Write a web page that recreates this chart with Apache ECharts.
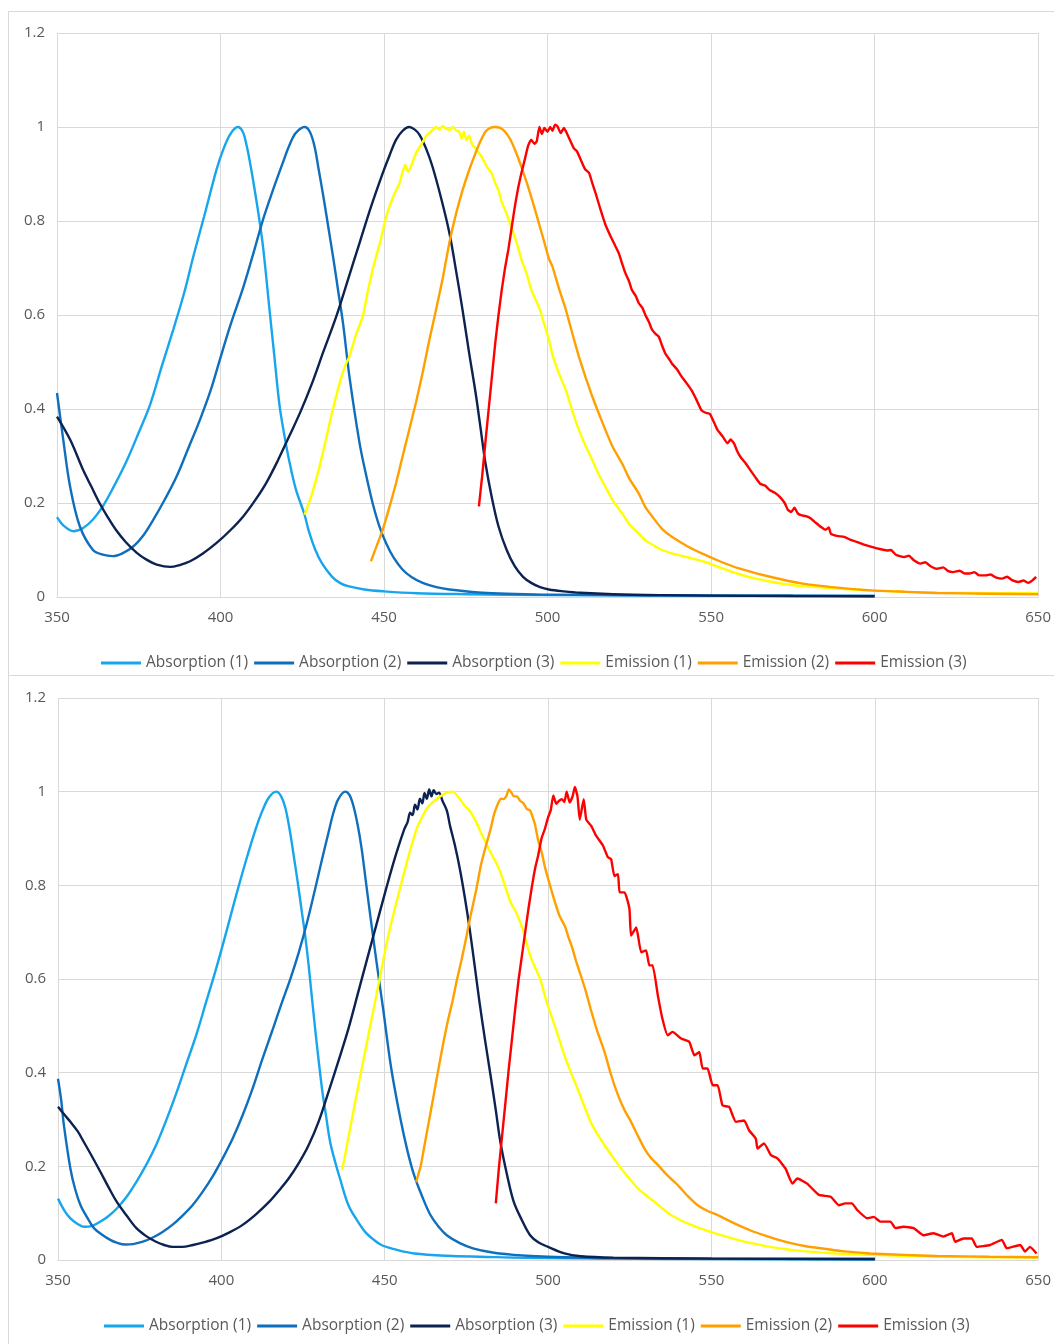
<!DOCTYPE html>
<html>
<head>
<meta charset="utf-8">
<title>Absorption and emission spectra</title>
<script src="https://cdn.jsdelivr.net/npm/echarts@6/dist/echarts.min.js"></script>
<style>
  html, body { margin: 0; padding: 0; background: #ffffff; }
  #chart { width: 1054px; height: 1344px; }
</style>
</head>
<body>
<div id="chart"></div>
<script>
// Wavelength axis (nm) and normalised intensity axis
const xTicks = [350, 400, 450, 500, 550, 600, 650];
const yTicks = [0, 0.2, 0.4, 0.6, 0.8, 1, 1.2];
const seriesNames = ['Absorption (1)', 'Absorption (2)', 'Absorption (3)', 'Emission (1)', 'Emission (2)', 'Emission (3)'];

// ---- Upper panel: [wavelength, normalised intensity] ----
const absorption1Top = [[350,0.17],[352,0.152],[355,0.14],[358,0.147],[361,0.165],[364,0.193],[367,0.23],[371,0.285],[375,0.35],[378.5,0.41],[382,0.49],[385.6,0.57],[389,0.65],[391.7,0.725],[395,0.81],[398.8,0.91],[401,0.955],[403,0.985],[405.2,1.0],[406.8,0.99],[408,0.96],[409,0.925],[410,0.885],[411.5,0.82],[413,0.745],[415,0.61],[416.5,0.51],[418,0.41],[419.5,0.345],[421,0.29],[423,0.23],[425.7,0.175],[427,0.14],[429,0.1],[431,0.072],[434,0.044],[436.5,0.03],[439,0.023],[444,0.016],[450,0.012],[460,0.008],[475,0.006],[500,0.004],[550,0.003],[600,0.002]];
const absorption2Top = [[350,0.434],[352,0.33],[354,0.235],[357,0.15],[361,0.1],[364,0.09],[367,0.087],[370,0.093],[373.4,0.108],[376.5,0.132],[379.5,0.165],[383,0.208],[386.6,0.257],[390,0.314],[393.7,0.377],[397,0.44],[399.8,0.505],[403,0.578],[407,0.66],[410,0.73],[413,0.803],[416,0.865],[419,0.923],[421,0.96],[423,0.987],[425.7,1.0],[427.3,0.99],[428.7,0.96],[430,0.91],[431.5,0.85],[433,0.785],[434.5,0.72],[436,0.65],[437.5,0.58],[439.4,0.47],[442.5,0.328],[444.5,0.26],[446.5,0.2],[448.5,0.152],[450.6,0.115],[453,0.083],[455.7,0.058],[458.5,0.042],[461.8,0.03],[466,0.021],[470,0.016],[480,0.009],[490,0.0065],[500,0.005],[550,0.003],[600,0.002]];
const absorption3Top = [[350,0.384],[354,0.335],[358,0.27],[360.5,0.235],[363,0.2],[365.5,0.17],[368,0.143],[371,0.117],[374.4,0.094],[377.5,0.079],[380.5,0.069],[384.6,0.064],[387.5,0.068],[390.7,0.076],[394.5,0.092],[398.8,0.115],[403,0.142],[407,0.172],[410.5,0.205],[414,0.243],[417.5,0.29],[421,0.342],[424.5,0.395],[428,0.455],[431.5,0.523],[435.4,0.597],[439,0.676],[442.5,0.753],[446,0.83],[449.6,0.902],[451.7,0.94],[453.7,0.973],[455.7,0.992],[457.7,1.0],[459.3,0.995],[460.8,0.984],[462.8,0.955],[464.8,0.916],[467.4,0.85],[470,0.774],[472,0.695],[474,0.611],[476,0.52],[478,0.434],[479.5,0.36],[481,0.285],[483,0.21],[485,0.15],[487.5,0.1],[490,0.065],[492.5,0.043],[495,0.03],[497.7,0.021],[500.4,0.016],[505,0.012],[510,0.009],[520,0.006],[535,0.004],[550,0.003],[575,0.002],[600,0.0015]];
const emission1Top = [[425.7,0.175],[427,0.2],[428,0.22],[430,0.27],[432,0.328],[434,0.39],[436.4,0.455],[438,0.49],[439.4,0.512],[441.5,0.56],[443.5,0.597],[445,0.65],[446.5,0.696],[447.8,0.73],[449,0.76],[450.3,0.8],[451.6,0.83],[453,0.855],[454.7,0.88],[455.7,0.905],[456.5,0.92],[457.3,0.905],[458,0.912],[459.8,0.945],[461.3,0.962],[462.8,0.98],[464.3,0.99],[465.9,1.0],[467,0.994],[467.9,1.002],[468.9,0.997],[470,0.994],[471,1.0],[472,0.993],[473,0.99],[473.7,0.975],[474.4,0.99],[475.2,0.972],[476,0.982],[477,0.962],[478,0.955],[479,0.945],[480,0.935],[481.5,0.915],[483,0.9],[484,0.88],[485,0.865],[486,0.84],[487.5,0.815],[489,0.785],[490.5,0.755],[492,0.718],[493.5,0.69],[495,0.654],[496.3,0.633],[497.7,0.611],[499,0.58],[500.4,0.548],[501.5,0.515],[503.5,0.475],[505.6,0.44],[507.6,0.395],[509.6,0.355],[511.6,0.322],[513.7,0.291],[515.7,0.26],[517.7,0.234],[520,0.205],[522.8,0.178],[525,0.155],[527.9,0.135],[530,0.12],[532.9,0.108],[535,0.1],[538,0.093],[543,0.084],[548,0.075],[553,0.062],[558,0.05],[563,0.04],[568,0.033],[573,0.027],[578.5,0.023],[588,0.018],[598.8,0.014],[609,0.011],[619,0.009],[630,0.0085],[640,0.008],[650,0.008]];
const emission2Top = [[446,0.076],[447.8,0.11],[449.6,0.143],[451.6,0.19],[453.7,0.243],[455.7,0.3],[457.7,0.356],[459.8,0.415],[461.8,0.477],[463.8,0.545],[465.9,0.611],[468,0.68],[470,0.755],[472,0.815],[474,0.865],[476,0.908],[478,0.945],[479.5,0.97],[481,0.99],[482.5,0.998],[484,1.0],[485.5,0.998],[487,0.99],[488.5,0.975],[490,0.952],[492,0.915],[494,0.874],[495.7,0.835],[497.4,0.794],[499,0.755],[500.4,0.72],[501.5,0.703],[503.5,0.656],[505.6,0.611],[507.6,0.56],[509.6,0.511],[511.6,0.468],[513.7,0.426],[515.7,0.39],[517.7,0.355],[520,0.318],[522.8,0.284],[525,0.252],[527.9,0.22],[530,0.19],[532.9,0.163],[535,0.145],[538,0.128],[543,0.107],[548,0.09],[553,0.075],[558,0.062],[568,0.043],[578.5,0.028],[588.7,0.02],[598.8,0.014],[610,0.011],[619,0.0085],[635,0.007],[650,0.006]];
const emission3Top = [[479,0.193],[480,0.257],[481,0.33],[482,0.4],[483,0.47],[484,0.54],[485,0.6],[486,0.654],[487,0.7],[488,0.739],[489,0.785],[490,0.831],[491,0.87],[492,0.902],[493,0.93],[494,0.959],[495,0.973],[496,0.964],[496.7,0.97],[497.5,1.0],[498.3,0.985],[499,0.998],[500,0.99],[500.8,1.0],[501.5,0.992],[502.3,1.005],[503,1.002],[504,0.987],[505,0.998],[506,0.985],[507,0.97],[508,0.955],[509,0.948],[510.6,0.923],[511.5,0.91],[512.7,0.902],[513.7,0.88],[514.7,0.859],[516.2,0.824],[517.7,0.792],[519.3,0.767],[520.5,0.75],[521.8,0.731],[523,0.705],[523.8,0.689],[525,0.67],[525.8,0.653],[527,0.64],[527.9,0.625],[529,0.615],[529.9,0.6],[531,0.585],[532,0.568],[533,0.56],[534,0.554],[535,0.535],[536,0.518],[537,0.508],[538,0.497],[539.5,0.485],[541,0.469],[542.5,0.455],[544,0.44],[545.5,0.42],[547,0.398],[548.3,0.392],[549.6,0.39],[551,0.37],[552,0.355],[553.5,0.342],[555,0.327],[556,0.335],[557,0.327],[558,0.31],[559,0.298],[560.5,0.285],[562,0.27],[563.5,0.255],[565,0.241],[566.5,0.237],[568,0.227],[569.5,0.222],[571,0.213],[572.5,0.2],[573.5,0.185],[574.5,0.181],[575.5,0.19],[576.5,0.178],[577.5,0.174],[579,0.172],[580.5,0.167],[582,0.158],[583.6,0.149],[585,0.143],[586,0.148],[586.6,0.135],[588.5,0.13],[590.7,0.128],[592.5,0.122],[594.7,0.117],[596.5,0.112],[598.8,0.107],[601,0.103],[603.8,0.099],[605,0.1],[606.5,0.09],[609,0.085],[610.5,0.088],[612,0.078],[614,0.071],[615.5,0.074],[617,0.066],[619,0.06],[621,0.063],[622.5,0.055],[624,0.053],[626,0.056],[627.5,0.05],[629,0.05],[630.5,0.053],[632,0.046],[634,0.046],[635.5,0.048],[637,0.042],[639,0.039],[640.5,0.043],[642,0.036],[644,0.032],[645.5,0.035],[647,0.03],[648,0.034],[649.4,0.043]];

// ---- Lower panel: [wavelength, normalised intensity] ----
const absorption1Bottom = [[350,0.131],[352,0.105],[353.8,0.089],[356,0.077],[357.9,0.071],[360.5,0.073],[363,0.082],[365.5,0.094],[368,0.11],[371,0.135],[374,0.167],[377,0.203],[380,0.245],[383,0.296],[386,0.352],[389,0.413],[392.3,0.48],[395.3,0.55],[398.4,0.622],[401.5,0.7],[404.5,0.778],[407.5,0.852],[410.5,0.92],[412.6,0.96],[414.6,0.988],[416.8,1.0],[418.3,0.99],[419.6,0.965],[421,0.915],[422,0.87],[423.3,0.81],[424.7,0.74],[425.7,0.69],[426.7,0.63],[428.7,0.494],[430.8,0.366],[432,0.31],[433.3,0.252],[434.8,0.21],[436.3,0.174],[438.9,0.117],[441.5,0.085],[444,0.06],[446.5,0.044],[449,0.032],[454,0.021],[459,0.014],[469,0.009],[479,0.007],[500,0.004],[550,0.002],[600,0.001]];
const absorption2Bottom = [[350,0.387],[351,0.34],[351.8,0.288],[353.8,0.195],[355.3,0.15],[356.9,0.117],[359,0.09],[361,0.068],[363.5,0.054],[366,0.043],[368,0.037],[370.5,0.033],[373,0.034],[376,0.039],[379,0.048],[382,0.06],[385,0.075],[388.3,0.096],[391.3,0.118],[394.3,0.146],[397.3,0.178],[400.4,0.217],[403.5,0.26],[406.5,0.309],[409.5,0.365],[412.6,0.43],[415.6,0.49],[418.6,0.551],[421.2,0.602],[423.7,0.657],[426.2,0.72],[428.7,0.792],[430.8,0.855],[432.8,0.913],[434.3,0.955],[435.8,0.984],[437.9,1.0],[439.2,0.993],[440.4,0.97],[441.7,0.93],[442.9,0.88],[444.2,0.81],[445.4,0.745],[447.5,0.636],[449.5,0.537],[452,0.409],[455,0.295],[457,0.232],[459,0.181],[461.5,0.135],[464,0.096],[466.5,0.071],[469,0.053],[473,0.036],[477,0.025],[483,0.016],[489.5,0.011],[500,0.007],[520,0.004],[550,0.003],[600,0.002]];
const absorption3Bottom = [[350,0.327],[352,0.31],[353.8,0.295],[356,0.275],[357.9,0.252],[360.5,0.22],[363,0.188],[365.5,0.155],[368,0.124],[371,0.095],[374,0.068],[377,0.051],[380,0.039],[382.5,0.032],[385,0.028],[388,0.028],[391.3,0.032],[394.8,0.038],[398.4,0.046],[402.5,0.059],[406.5,0.075],[410.5,0.097],[414.6,0.124],[417.6,0.148],[420.6,0.174],[423.7,0.207],[426.7,0.245],[429.8,0.296],[432.8,0.359],[435.8,0.424],[438.9,0.494],[441.9,0.572],[444.9,0.65],[448,0.73],[451,0.807],[453.5,0.867],[456,0.92],[457,0.935],[457.8,0.955],[458.5,0.95],[459.3,0.972],[460,0.962],[460.8,0.985],[461.5,0.975],[462.2,0.997],[462.9,0.985],[463.6,1.005],[464.3,0.99],[465,1.003],[465.8,0.995],[466.6,0.998],[467.7,0.98],[469,0.96],[470,0.927],[471.5,0.885],[473,0.835],[474.5,0.775],[476,0.707],[477.5,0.63],[479,0.551],[480.7,0.47],[482.4,0.394],[484,0.32],[485.4,0.252],[487.5,0.18],[489.5,0.124],[492,0.085],[494.5,0.053],[497,0.038],[500,0.028],[505,0.014],[510,0.008],[520,0.005],[550,0.003],[600,0.002]];
const emission1Bottom = [[437,0.192],[439,0.266],[442,0.375],[445,0.48],[448,0.585],[451,0.69],[454,0.775],[457,0.855],[460,0.925],[463,0.965],[466,0.985],[469,0.998],[471,1.0],[473,0.984],[474.5,0.97],[476.3,0.956],[478,0.935],[479.4,0.913],[481,0.89],[482.4,0.87],[484,0.85],[485.4,0.828],[487,0.795],[488.5,0.764],[490,0.745],[491.5,0.721],[493,0.688],[494.5,0.65],[496,0.625],[497.6,0.6],[499.6,0.55],[501,0.522],[503,0.48],[505,0.437],[507,0.4],[509,0.366],[511,0.33],[513,0.295],[515,0.27],[517.3,0.245],[520,0.218],[522.4,0.195],[525,0.173],[527.5,0.153],[530,0.138],[532.6,0.124],[535,0.11],[537.6,0.096],[540,0.087],[542.7,0.078],[546,0.069],[549.8,0.06],[554,0.051],[558,0.043],[563,0.035],[568,0.028],[573,0.023],[578,0.019],[588,0.014],[598.7,0.011],[609,0.009],[619,0.007],[635,0.006],[650,0.005]];
const emission2Bottom = [[459.6,0.166],[461,0.2],[462,0.238],[463.5,0.295],[465,0.352],[466.5,0.41],[468,0.466],[469.3,0.51],[470.7,0.551],[472,0.595],[473.5,0.64],[475,0.69],[476.3,0.736],[478,0.79],[479.4,0.842],[481,0.885],[482.4,0.92],[483.4,0.95],[484.4,0.97],[485.5,0.985],[486.4,0.984],[487.2,0.99],[488,1.005],[488.8,0.998],[489.5,0.99],[490.5,0.99],[491.5,0.98],[492.5,0.975],[493.5,0.963],[494.5,0.96],[495.3,0.945],[496,0.93],[497,0.895],[498.1,0.869],[499,0.84],[500.1,0.812],[501,0.79],[502.2,0.762],[503.5,0.735],[505.2,0.712],[506.2,0.69],[507.3,0.669],[508.5,0.64],[510,0.608],[511.5,0.575],[513,0.537],[515,0.49],[517.3,0.444],[519.3,0.395],[521.4,0.352],[523.4,0.32],[525.4,0.295],[527.5,0.265],[529.5,0.238],[531.5,0.218],[533.6,0.203],[536.6,0.18],[539.7,0.16],[542.7,0.137],[545.8,0.117],[549,0.104],[551.9,0.096],[555,0.085],[558,0.075],[562,0.063],[566,0.053],[570,0.044],[574.3,0.036],[578.5,0.03],[583.4,0.025],[590,0.019],[598.7,0.014],[609,0.011],[619,0.0085],[635,0.007],[650,0.006]];
const emission3Bottom = [[484,0.121],[485,0.2],[486,0.27],[487,0.34],[488,0.41],[489,0.475],[490,0.54],[491,0.6],[492,0.65],[493,0.7],[494,0.75],[495,0.795],[496,0.835],[497,0.865],[498,0.9],[499,0.92],[500,0.945],[500.8,0.96],[501.6,0.992],[502.5,0.974],[503.3,0.98],[504.2,0.984],[505,0.978],[505.7,1.0],[506.6,0.977],[507.5,0.99],[508.2,1.01],[509,0.99],[509.7,0.94],[510.9,0.984],[511.7,0.94],[513.2,0.927],[514.7,0.906],[516.8,0.885],[518.3,0.86],[519.3,0.856],[520.3,0.82],[521.4,0.824],[521.9,0.785],[523.4,0.785],[524.9,0.75],[525.4,0.693],[527,0.71],[528.5,0.657],[530,0.661],[531,0.629],[532,0.629],[533.6,0.565],[535,0.515],[536.6,0.48],[538.1,0.487],[540.7,0.473],[543.2,0.466],[544.8,0.437],[546.3,0.444],[547.3,0.409],[548.8,0.409],[550.4,0.373],[551.9,0.373],[553.4,0.33],[555.4,0.327],[557.5,0.295],[560,0.298],[561.5,0.277],[563.6,0.259],[564.1,0.238],[566.1,0.249],[568.2,0.224],[570.2,0.217],[572.7,0.195],[574.8,0.163],[576.3,0.174],[579.3,0.163],[582.9,0.139],[586.5,0.135],[589,0.117],[591,0.121],[593,0.121],[594.6,0.107],[597.7,0.089],[599.7,0.092],[601.7,0.082],[604.8,0.082],[606.3,0.068],[608.8,0.071],[611.9,0.068],[614.9,0.053],[618,0.057],[621,0.05],[623.6,0.057],[624.6,0.039],[627.2,0.046],[629.7,0.046],[631.2,0.028],[635.3,0.032],[638.9,0.043],[640.4,0.025],[644.5,0.032],[646,0.018],[647.5,0.028],[649.5,0.014]];

const seriesColors = ['#17A6EE', '#0F6FBD', '#0C2250', '#FFFF00', '#FFA000', '#FF0000'];

const FONT = '"Open Sans", "Noto Sans", sans-serif';
const TEXT_COLOR = '#595959';
const GRID_COLOR = '#D9D9D9';

function xAxisFor(gridIndex) {
  return {
    type: 'value', gridIndex,
    min: xTicks[0], max: xTicks[xTicks.length - 1], interval: xTicks[1] - xTicks[0],
    axisLine: { show: true, lineStyle: { color: GRID_COLOR, width: 1 } },
    axisTick: { show: false },
    axisLabel: { color: TEXT_COLOR, fontSize: 15, fontFamily: FONT, margin: 13 },
    splitLine: { show: true, lineStyle: { color: GRID_COLOR, width: 1 } }
  };
}
function yAxisFor(gridIndex) {
  return {
    type: 'value', gridIndex,
    min: yTicks[0], max: yTicks[yTicks.length - 1], interval: yTicks[1] - yTicks[0],
    axisLine: { show: false },
    axisTick: { show: false },
    axisLabel: { color: TEXT_COLOR, fontSize: 15, fontFamily: FONT, margin: 12 },
    splitLine: { show: true, lineStyle: { color: GRID_COLOR, width: 1 } }
  };
}

const panels = [
  [absorption1Top, absorption2Top, absorption3Top, emission1Top, emission2Top, emission3Top],
  [absorption1Bottom, absorption2Bottom, absorption3Bottom, emission1Bottom, emission2Bottom, emission3Bottom]
];

const series = [];
panels.forEach((panel, gi) => {
  panel.forEach((data, si) => {
    const isEmission = si >= 3;
    series.push({
      type: 'line',
      name: seriesNames[si],
      xAxisIndex: gi, yAxisIndex: gi,
      data,
      showSymbol: false, symbol: 'none',
      smooth: isEmission ? 0.15 : 0.35,
      color: seriesColors[si],
      lineStyle: { width: 2.4, color: seriesColors[si] },
      emphasis: { disabled: true }
    });
  });
});

function legendAt(left, top) {
  return {
    left, top, orient: 'horizontal',
    data: seriesNames,
    icon: 'rect', itemWidth: 40, itemHeight: 3, itemGap: 6,
    textStyle: { color: TEXT_COLOR, fontSize: 15.5, fontFamily: FONT },
    selectedMode: false
  };
}

const chart = echarts.init(document.getElementById('chart'), null, { renderer: 'canvas' });
chart.setOption({
  backgroundColor: '#ffffff',
  animation: false,
  color: seriesColors,
  graphic: [
    { type: 'rect', shape: { x: 8.5, y: 11.5, width: 1100, height: 664 }, style: { fill: 'none', stroke: GRID_COLOR, lineWidth: 1 }, silent: true },
    { type: 'rect', shape: { x: 8.5, y: 675.5, width: 1100, height: 700 }, style: { fill: 'none', stroke: GRID_COLOR, lineWidth: 1 }, silent: true }
  ],
  grid: [
    { left: 57, top: 33, width: 983, height: 564 },
    { left: 58, top: 698, width: 983, height: 562 }
  ],
  xAxis: [xAxisFor(0), xAxisFor(1)],
  yAxis: [yAxisFor(0), yAxisFor(1)],
  legend: [legendAt(96, 650), legendAt(99, 1313)],
  series
});
</script>
</body>
</html>
